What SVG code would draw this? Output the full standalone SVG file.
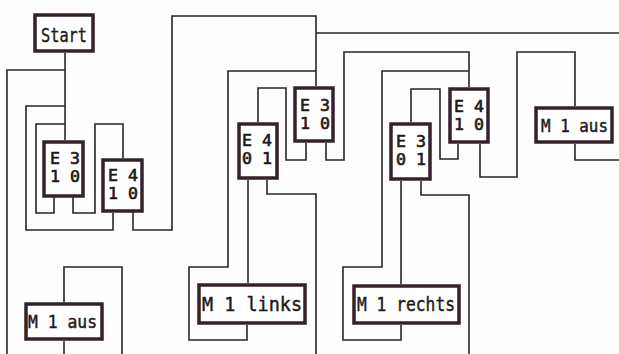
<svg xmlns="http://www.w3.org/2000/svg" width="619" height="354" viewBox="0 0 619 354">
<style>
.bg{fill:#fdfdfd}
.box{fill:#ffffff;stroke:#33222a;stroke-width:3.5}
.w{fill:none;stroke:#262626;stroke-width:1.6}
.t{font-family:"DejaVu Sans Mono","Liberation Mono",monospace;font-size:20px;fill:#1e1a1c;stroke:#1e1a1c;stroke-width:0.45}
.e{font-family:"DejaVu Sans Mono","Liberation Mono",monospace;font-size:15.4px;fill:#1e1a1c;stroke:#1e1a1c;stroke-width:0.6}
.m{font-family:"DejaVu Sans Mono","Liberation Mono",monospace;font-size:17px;fill:#1e1a1c;stroke:#1e1a1c;stroke-width:0.45}
</style>
<rect class="bg" x="0" y="0" width="619" height="354"/>
<g id="connectors">
<path class="w" d="M65,53 V140"/>
<path class="w" d="M65,70 H7 V354"/>
<path class="w" d="M65,106 H26 V230 H113 V213"/>
<path class="w" d="M65,124 H36 V213 H54 V197"/>
<path class="w" d="M73,197 V213 H95 V124 H123 V158"/>
<path class="w" d="M133,212 V230 H172 V16 H316 V86"/>
<path class="w" d="M316,33 H619"/>
<path class="w" d="M316,71 H228 V267 H189 V340 H247 V325"/>
<path class="w" d="M258,122 V88 H286 V160 H306 V143"/>
<path class="w" d="M326,143 V160 H344 V52 H469 V87"/>
<path class="w" d="M469,71 H382 V267 H343 V340 H401 V325"/>
<path class="w" d="M248,180 V283"/>
<path class="w" d="M267,180 V194 H316 V354"/>
<path class="w" d="M411,122 V89 H440 V159 H458 V144"/>
<path class="w" d="M401,181 V284"/>
<path class="w" d="M421,181 V195 H469 V354"/>
<path class="w" d="M480,144 V177 H517 V52 H575 V106"/>
<path class="w" d="M575,144 V160 H619"/>
<path class="w" d="M64,302 V267 H122 V354"/>
<path class="w" d="M64,341 V354"/>
</g>
<g id="start">
<rect class="box" x="35" y="15" width="58" height="36"/>
<text class="t" x="41" y="42" textLength="46" lengthAdjust="spacingAndGlyphs">Start</text>
</g>
<g id="e3a">
<rect class="box" x="44" y="142" width="39" height="54"/>
<text class="e"><tspan x="50" y="164" textLength="30" lengthAdjust="spacingAndGlyphs">E 3</tspan><tspan x="50" y="182" textLength="30" lengthAdjust="spacingAndGlyphs">1 0</tspan></text>
</g>
<g id="e4a">
<rect class="box" x="103" y="160" width="39" height="51"/>
<text class="e"><tspan x="108" y="181" textLength="30" lengthAdjust="spacingAndGlyphs">E 4</tspan><tspan x="108" y="199" textLength="30" lengthAdjust="spacingAndGlyphs">1 0</tspan></text>
</g>
<g id="e3b">
<rect class="box" x="295" y="88" width="38" height="53"/>
<text class="e"><tspan x="300" y="110.5" textLength="30" lengthAdjust="spacingAndGlyphs">E 3</tspan><tspan x="300" y="128.5" textLength="30" lengthAdjust="spacingAndGlyphs">1 0</tspan></text>
</g>
<g id="e4b">
<rect class="box" x="239" y="124" width="38" height="54"/>
<text class="e"><tspan x="242" y="145.5" textLength="30" lengthAdjust="spacingAndGlyphs">E 4</tspan><tspan x="242" y="163.5" textLength="30" lengthAdjust="spacingAndGlyphs">0 1</tspan></text>
</g>
<g id="e3c">
<rect class="box" x="391" y="124" width="39" height="55"/>
<text class="e"><tspan x="396" y="147" textLength="30" lengthAdjust="spacingAndGlyphs">E 3</tspan><tspan x="396" y="165" textLength="30" lengthAdjust="spacingAndGlyphs">0 1</tspan></text>
</g>
<g id="e4c">
<rect class="box" x="450" y="89" width="38" height="53"/>
<text class="e"><tspan x="454" y="112" textLength="30" lengthAdjust="spacingAndGlyphs">E 4</tspan><tspan x="454" y="130" textLength="30" lengthAdjust="spacingAndGlyphs">1 0</tspan></text>
</g>
<g id="m1aus-right">
<rect class="box" x="536" y="108" width="76" height="34"/>
<text class="m" x="541" y="132" textLength="67" lengthAdjust="spacingAndGlyphs">M 1 aus</text>
</g>
<g id="m1aus-left">
<rect class="box" x="26" y="304" width="76" height="35"/>
<text class="m" x="28" y="328" textLength="69" lengthAdjust="spacingAndGlyphs">M 1 aus</text>
</g>
<g id="m1links">
<rect class="box" x="199" y="285" width="106" height="38"/>
<text class="t" x="202" y="311" textLength="100" lengthAdjust="spacingAndGlyphs">M 1  links</text>
</g>
<g id="m1rechts">
<rect class="box" x="354" y="286" width="105" height="37"/>
<text class="t" x="357" y="311" textLength="98" lengthAdjust="spacingAndGlyphs">M 1 rechts</text>
</g>
</svg>
